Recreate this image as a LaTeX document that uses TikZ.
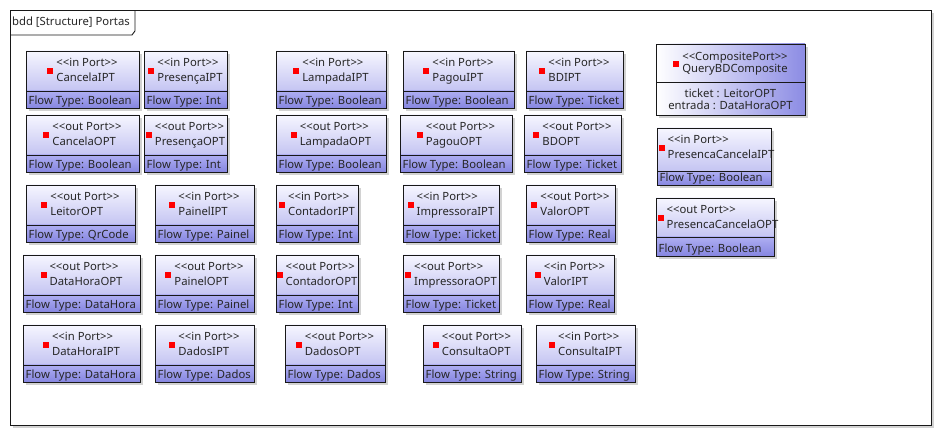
\documentclass[tikz,border=0pt]{standalone}
\usepackage{fontspec}
\setmainfont{Noto Sans}
\definecolor{topA}{HTML}{F6F6FF}
\definecolor{topB}{HTML}{C4C4F2}
\definecolor{botA}{HTML}{AEAEF2}
\definecolor{botB}{HTML}{8686E0}
\definecolor{compB}{HTML}{8C8CE4}
\definecolor{shadowc}{HTML}{D2D2D2}
\definecolor{linec}{HTML}{181818}
\tikzset{
  x=1pt,y=-1pt,
  boxline/.style={draw=linec,line width=0.9pt},
  txt/.style={inner sep=0pt,font=\fontsize{11.3}{15}\selectfont,text=black!85},
  portname/.style={txt,anchor=base},
  portnamew/.style={txt,anchor=base west},
  flowtxt/.style={txt,anchor=base west},
}
\newcommand\redsq{\textcolor{red}{\rule[-7pt]{6pt}{6pt}}}
\newcommand\stin{<\kern0pt<in Port>\kern0pt>}
\newcommand\stout{<\kern0pt<out Port>\kern0pt>}
\newcommand\twolines[2]{\vtop{\baselineskip=15pt\lineskiplimit=-20pt\hbox{#1}\hbox{#2}}}
\newcommand\boxbody[6]{% #1 x1 #2 y1 #3 x2 #4 y2 #5 ydiv
  \fill[shadowc] (#1+3,#2+3) rectangle (#3+3,#4+3);
  \shade[top color=topA,bottom color=topB] (#1,#2) rectangle (#3,#5);
  \shade[top color=botA,bottom color=botB] (#1,#5) rectangle (#3,#4);
}
\newcommand\boxedges[5]{%
  \draw[boxline] (#1,#2) rectangle (#3,#4);
  \draw[boxline] (#1,#5) -- (#3,#5);
}
% #1 name #2 x1 #3 y1 #4 x2 #5 y2 #6 ydiv #7 stereo #8 title #9 flow
\newcommand\portbox[9]{%
  \boxbody{#2}{#3}{#4}{#5}{#6}{}
  \node[portname] (#1) at ({(#2+#4)/2},#3+16) {\redsq\hspace{3pt}\twolines{#7}{#8}};
  \node[flowtxt] (#1f) at (#2+2.5,#5-3.5) {Flow Type: #9};
  \boxedges{#2}{#3}{#4}{#5}{#6}
}
\newcommand\portboxw[9]{%
  \boxbody{#2}{#3}{#4}{#5}{#6}{}
  \node[portnamew] (#1) at (#2+1.5,#3+16) {\redsq\hspace{3pt}\twolines{#7}{#8}};
  \node[flowtxt] (#1f) at (#2+2.5,#5-3.5) {Flow Type: #9};
  \boxedges{#2}{#3}{#4}{#5}{#6}
}
\newcommand\pbox[6]{\portbox{#1}{#2}{#3}{#4}{#3+57}{#3+40}{#5}{#1}{#6}}
\begin{document}
\begin{tikzpicture}
\useasboundingbox (0,0) rectangle (943,438);
\fill[white] (0,0) rectangle (943,438);
% frame
\fill[shadowc] (13,13) rectangle (934,428);
\fill[white] (10.5,10.5) rectangle (931,425);
\draw[boxline] (10.5,10.5) rectangle (931,425);
\coordinate (tabA) at (10.5,35);
\coordinate (tabB) at (132,35);
\coordinate (tabC) at (135,31);
\coordinate (tabD) at (135,10.5);
\draw[boxline] (tabA) -- (tabB) -- (tabC) -- (tabD);
\node[txt,anchor=base west] (title) at (12,26) {bdd [Structure] Portas};
% row 1
\pbox{CancelaIPT}{26}{51}{139}{\stin}{Boolean}
\pbox{PresençaIPT}{144}{51}{227}{\stin}{Int}
\pbox{LampadaIPT}{276}{51}{386}{\stin}{Boolean}
\pbox{PagouIPT}{403}{51}{514}{\stin}{Boolean}
\pbox{BDIPT}{526}{51}{623}{\stin}{Ticket}
% row 2
\pbox{CancelaOPT}{26}{115}{139}{\stout}{Boolean}
\pbox{PresençaOPT}{144}{115}{227}{\stout}{Int}
\pbox{LampadaOPT}{276}{115}{386}{\stout}{Boolean}
\pbox{PagouOPT}{400}{115}{512}{\stout}{Boolean}
\pbox{BDOPT}{524}{115}{621}{\stout}{Ticket}
% row 3
\pbox{LeitorOPT}{26}{185}{135}{\stout}{QrCode}
\pbox{PainelIPT}{155}{185}{254}{\stin}{Painel}
\pbox{ContadorIPT}{276}{185}{358}{\stin}{Int}
\pbox{ImpressoraIPT}{403}{185}{499}{\stin}{Ticket}
\pbox{ValorOPT}{526}{185}{615}{\stout}{Real}
% row 4
\pbox{DataHoraOPT}{23}{255}{140}{\stout}{DataHora}
\pbox{PainelOPT}{155}{255}{254}{\stout}{Painel}
\pbox{ContadorOPT}{276}{255}{358}{\stout}{Int}
\pbox{ImpressoraOPT}{403}{255}{499}{\stout}{Ticket}
\pbox{ValorIPT}{526}{255}{614}{\stin}{Real}
% row 5
\pbox{DataHoraIPT}{23}{325}{140}{\stin}{DataHora}
\pbox{DadosIPT}{155}{325}{254}{\stin}{Dados}
\pbox{DadosOPT}{285}{325}{385}{\stout}{Dados}
\pbox{ConsultaOPT}{423}{325}{521}{\stout}{String}
\pbox{ConsultaIPT}{536}{325}{635}{\stin}{String}
% right column
\portboxw{PresencaCancelaIPT}{657}{128}{771}{185}{171.5}{\stin}{PresencaCancelaIPT}{Boolean}
\portboxw{PresencaCancelaOPT}{656}{198}{774}{256}{237}{\stout}{PresencaCancelaOPT}{Boolean}
% composite port
\fill[shadowc] (659,47) rectangle (808,118);
\shade[left color=white,right color=compB] (656,44) rectangle (805,115);
\node[portname] (QueryBDComposite) at (730.5,60.5) {\redsq\hspace{3pt}\vtop{\baselineskip=12.5pt\lineskiplimit=-20pt\hbox{<\kern0pt<CompositePort>\kern0pt>}\hbox{QueryBDComposite}}};
\node[txt,anchor=base] (attr1) at (730.5,97.5) {ticket : LeitorOPT};
\node[txt,anchor=base] (attr2) at (730.5,110) {entrada : DataHoraOPT};
\draw[boxline] (656,44) rectangle (805,115);
\draw[boxline] (656,82) -- (805,82);
\end{tikzpicture}
\end{document}
